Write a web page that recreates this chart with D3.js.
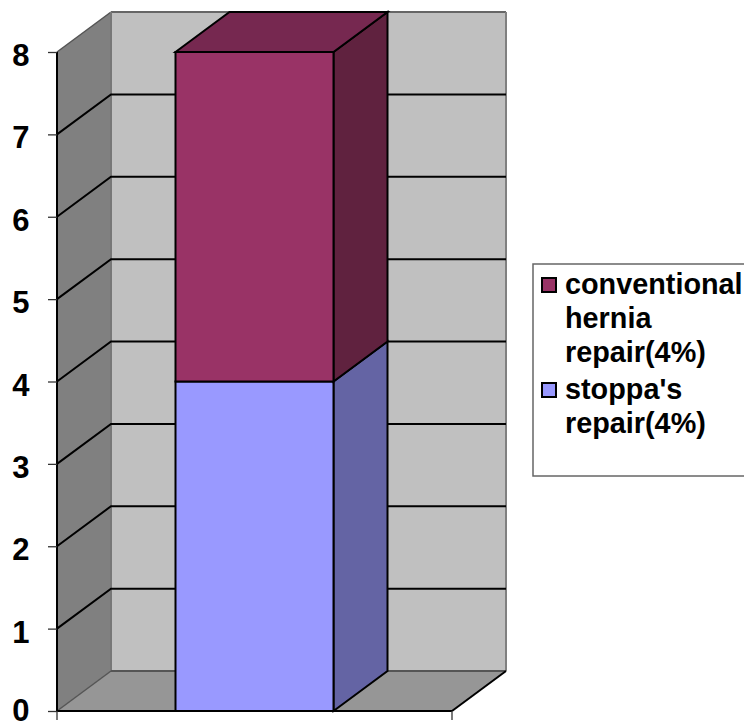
<!DOCTYPE html>
<html>
<head>
<meta charset="utf-8">
<script src="https://cdn.jsdelivr.net/npm/d3@7"></script>
<style>
html, body { margin: 0; padding: 0; background: #fff; overflow: hidden; }
text { font-family: "Liberation Sans", Arial, sans-serif; font-weight: bold; fill: #000; }
</style>
</head>
<body>
<script>
const tickValues = [0, 1, 2, 3, 4, 5, 6, 7, 8];
const categories = ["repair"];
const seriesNames = ["stoppa's repair(4%)", "conventional hernia repair(4%)"];
const seriesValues = [4, 4];
const seriesFront = ["#9999ff", "#993366"];
const seriesTop = ["#7a7acc", "#762850"];
const seriesSide = ["#6464a4", "#60223f"];
const legendLines = [
  { color: "#993366", lines: ["conventional", "hernia", "repair(4%)"] },
  { color: "#9999ff", lines: ["stoppa's", "repair(4%)"] }
];

const width = 744, height = 722;
const depthX = 54, depthY = -40;

const svg = d3.select("body").append("svg")
  .attr("width", width).attr("height", height)
  .style("display", "block");

const y = d3.scaleLinear().domain([0, 8]).range([711, 52]);
const xBar = d3.scaleBand().domain(categories).range([57, 452]).paddingInner(0.6).paddingOuter(0.3);
const poly = pts => "M" + pts.map(p => p.join(",")).join("L") + "Z";

const [x0, x1] = xBar.range();
const yBase = y(0), yTop = y(8);

// Chart box: floor, side wall and back wall
svg.append("path")
  .attr("d", poly([[x0, yBase], [x1, yBase], [x1 + depthX, yBase + depthY], [x0 + depthX, yBase + depthY]]))
  .attr("fill", "#969696");
svg.append("path")
  .attr("d", poly([[x0, yBase], [x0 + depthX, yBase + depthY], [x0 + depthX, yTop + depthY], [x0, yTop]]))
  .attr("fill", "#808080");
svg.append("rect")
  .attr("x", x0 + depthX).attr("y", yTop + depthY)
  .attr("width", x1 - x0).attr("height", yBase - yTop)
  .attr("fill", "#c0c0c0");

// Outline of the box
const edge = (a, b, c, w) => svg.append("line")
  .attr("x1", a[0]).attr("y1", a[1]).attr("x2", b[0]).attr("y2", b[1])
  .attr("stroke", c).attr("stroke-width", w);
edge([x0, yTop], [x0 + depthX, yTop + depthY], "#555", 1.5);
edge([x0 + depthX, yTop + depthY], [x1 + depthX, yTop + depthY], "#666", 2);
edge([x0 + depthX, yTop + depthY], [x0 + depthX, yBase + depthY], "#777", 2);
edge([x1 + depthX, yTop + depthY], [x1 + depthX, yBase + depthY], "#808080", 2);
edge([x0 + depthX, yBase + depthY], [x1 + depthX, yBase + depthY], "#555", 2);
edge([x0, yBase], [x0 + depthX, yBase + depthY], "#555", 1.5);
edge([x1, yBase], [x1 + depthX, yBase + depthY], "#000", 2);

// Gridlines running along the side wall and across the back wall
svg.append("g").selectAll("path")
  .data(tickValues.filter(t => t > 0 && t < 8)).join("path")
  .attr("d", t => `M${x0},${y(t)}L${x0 + depthX},${y(t) + depthY}L${x1 + depthX},${y(t) + depthY}`)
  .attr("fill", "none").attr("stroke", "#000").attr("stroke-width", 2);

// Value axis with outward ticks; the lowest label sits just above the page edge
const axisLeft = d3.axisLeft(y).tickValues(tickValues).tickSize(9).tickPadding(0).tickFormat(d3.format("d"));
const gAxis = svg.append("g").attr("transform", `translate(${x0},0)`).call(axisLeft);
gAxis.select(".domain").attr("stroke", "#000").attr("stroke-width", 2).attr("d", `M0,${yTop}V${yBase}`);
gAxis.selectAll(".tick line").attr("stroke", "#333").attr("stroke-width", 1.3);
gAxis.selectAll(".tick text")
  .attr("x", -27.5).attr("dy", null).attr("y", t => t === 0 ? 9.5 : 13.5)
  .attr("text-anchor", "end").attr("font-size", 31).attr("font-family", null);

// Baseline with its two end ticks
edge([x0, yBase], [x1, yBase], "#000", 2);
[x0, x1].forEach(x => edge([x, yBase], [x, yBase + 9], "#333", 1.3));

// Stacked 3D column
const bx0 = xBar(categories[0]), bx1 = bx0 + xBar.bandwidth();
const stack = svg.append("g");
let running = 0;
seriesValues.forEach((v, i) => {
  const yLow = y(running), yHigh = y(running + v);
  running += v;
  stack.append("path")
    .attr("d", poly([[bx1, yLow], [bx1 + depthX, yLow + depthY], [bx1 + depthX, yHigh + depthY], [bx1, yHigh]]))
    .attr("fill", seriesSide[i]).attr("stroke", "#000").attr("stroke-width", 2);
  if (i === seriesValues.length - 1) {
    stack.append("path")
      .attr("d", poly([[bx0, yHigh], [bx0 + depthX, yHigh + depthY], [bx1 + depthX, yHigh + depthY], [bx1, yHigh]]))
      .attr("fill", seriesTop[i]).attr("stroke", "#000").attr("stroke-width", 2);
  }
  stack.append("rect")
    .attr("x", bx0).attr("y", yHigh).attr("width", bx1 - bx0).attr("height", yLow - yHigh)
    .attr("fill", seriesFront[i]).attr("stroke", "#000").attr("stroke-width", 2);
});

// Legend
const legend = svg.append("g");
legend.append("rect")
  .attr("x", 533).attr("y", 264).attr("width", 240).attr("height", 212)
  .attr("fill", "#fff").attr("stroke", "#666").attr("stroke-width", 1.5);
const lineStep = 34;
let baseline = 294;
legendLines.forEach(entry => {
  legend.append("rect")
    .attr("x", 542).attr("y", baseline - 16).attr("width", 14).attr("height", 14)
    .attr("fill", entry.color).attr("stroke", "#000").attr("stroke-width", 2);
  entry.lines.forEach(line => {
    legend.append("text").attr("x", 565).attr("y", baseline).attr("font-size", 28.8).text(line);
    baseline += lineStep;
  });
  baseline += 3;
});
</script>
</body>
</html>
